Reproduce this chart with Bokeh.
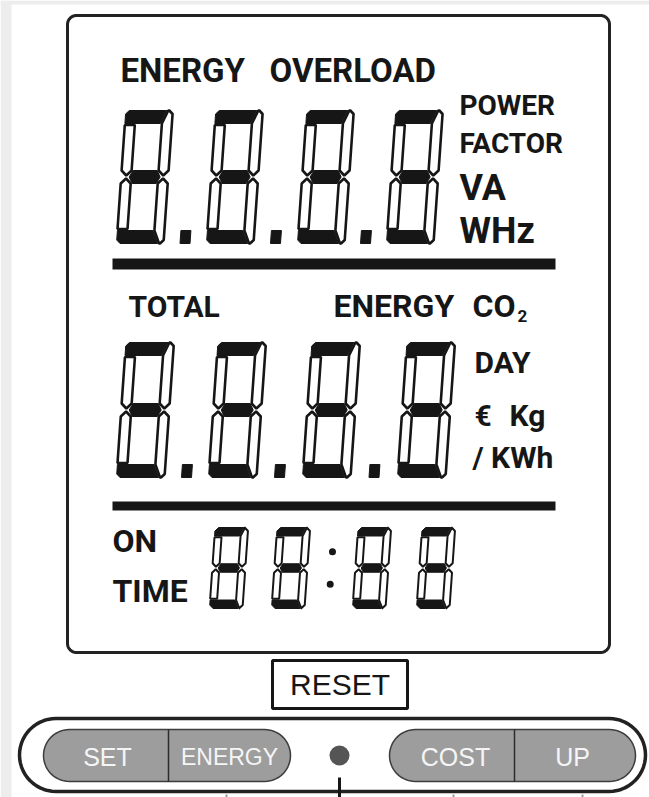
import math
from bokeh.plotting import figure
from bokeh.models import Range1d
from bokeh.core.properties import value
from bokeh.embed import file_html
from bokeh.resources import INLINE

# ---------------- data (display contents and legends) ----------------
top_digits = ["8", "8", "8", "8"]
top_points = [1, 1, 1]
mid_digits = ["8", "8", "8", "8"]
mid_points = [1, 1, 1]
time_digits = ["8", "8", "8", "8"]
time_colon = 1
header_labels = ["ENERGY", "OVERLOAD"]
top_units = ["POWER", "FACTOR", "VA", "WHz"]
mid_headers = ["TOTAL", "ENERGY", "CO"]
co2_sub = ["2"]
mid_units = ["DAY", "€", "Kg", "/ KWh"]
time_labels = ["ON", "TIME"]
reset_label = ["RESET"]
button_labels = ["SET", "ENERGY", "COST", "UP"]

SEG_MAP = {"0": "abcdef", "1": "bc", "2": "abdeg", "3": "abcdg", "4": "bcfg",
           "5": "acdfg", "6": "acdefg", "7": "abc", "8": "abcdefg", "9": "abcdfg"}

# ---------------- styles ----------------
INK = "#161616"
BOLD = "Roboto"
REG = "Liberation Sans"
BASE_SHIFT = 0.36   # empirical: rendered baseline sits this many em below the anchor

p = figure(width=649, height=797, x_range=Range1d(0, 649), y_range=Range1d(797, 0),
           output_backend="svg", toolbar_location=None, x_axis_type=None, y_axis_type=None,
           min_border=0, background_fill_color="white", border_fill_color="white",
           outline_line_color=None)
p.grid.visible = False


def arc_pts(cx, cy, r, a0, a1, n=14):
    return [(cx + r * math.cos(math.radians(a0 + (a1 - a0) * i / n)),
             cy + r * math.sin(math.radians(a0 + (a1 - a0) * i / n))) for i in range(n + 1)]


def rounded(x0, y0, x1, y1, r):
    pts = []
    pts += arc_pts(x0 + r, y0 + r, r, 180, 270)
    pts += arc_pts(x1 - r, y0 + r, r, 270, 360)
    pts += arc_pts(x1 - r, y1 - r, r, 0, 90)
    pts += arc_pts(x0 + r, y1 - r, r, 90, 180)
    xs = [q[0] for q in pts] + [pts[0][0]]
    ys = [q[1] for q in pts] + [pts[0][1]]
    return xs, ys


def digit_polys(x0, yb, W, H, th, tv, k, g, digit):
    M = H / 2
    c = tv * 0.55      # diagonal cut between horizontal bar and right vertical
    r = 3.5            # corner bevel
    h2 = tv / 2
    segs = {
        "a": [(0, H - th), (0, H - r), (r, H), (W - tv + c - g, H), (W - tv - g, H - th)],
        "d": [(0, th), (0, r), (r, 0), (W - tv + c - g, 0), (W - tv - g, th)],
        "g": [(h2 + 2 * g, M), (tv + g, M + th / 2), (W - tv - g, M + th / 2),
              (W - h2 - 2 * g, M), (W - tv - g, M - th / 2), (tv + g, M - th / 2)],
        "b": [(W - tv, H - th), (W - tv + c, H), (W - r, H), (W, H - r), (W, M + h2 + g),
              (W - h2, M + g), (W - tv, M + h2 + g)],
        "c": [(W - tv, th), (W - tv + c, 0), (W - r, 0), (W, r), (W, M - h2 - g),
              (W - h2, M - g), (W - tv, M - h2 - g)],
        "f": [(0, H - th - g), (tv, H - th - g), (tv, M + h2 + g), (h2, M + g), (0, M + h2 + g)],
        "e": [(0, th + g), (tv, th + g), (tv, M - h2 - g), (h2, M - g), (0, M - h2 - g)],
    }
    filled, outlined = [], []
    for name in SEG_MAP[digit]:
        pts = segs[name]
        xs = [x0 + u + v * k for u, v in pts]
        ys = [yb - v for u, v in pts]
        (filled if name in "adg" else outlined).append((xs, ys))
    return filled, outlined


def draw_row(digits, x0s, yb, W, H, th, tv, k, gap, lw, points=None, dot=(10, 13), colon=None):
    fx, fy, ox, oy = [], [], [], []
    for d, x0 in zip(digits, x0s):
        f, o = digit_polys(x0, yb, W, H, th, tv, k, gap, d)
        for xs, ys in f:
            fx.append(xs); fy.append(ys)
        for xs, ys in o:
            ox.append(xs); oy.append(ys)
    if points:
        dw, dh = dot
        for i, on in enumerate(points):
            if not on:
                continue
            cx = (x0s[i] + W + x0s[i + 1]) / 2
            pts = [(cx - dw / 2, 0), (cx + dw / 2, 0), (cx + dw / 2, dh), (cx - dw / 2, dh)]
            fx.append([u + v * k for u, v in pts]); fy.append([yb - v for u, v in pts])
    p.patches(fx, fy, fill_color=INK, line_color=INK, line_width=1.0)
    p.patches(ox, oy, fill_color="white", line_color=INK, line_width=lw)
    if colon:
        i, r = colon
        cx = (x0s[i] + W + x0s[i + 1]) / 2
        vs = [H * 0.3, H * 0.7]
        p.scatter([cx + v * k for v in vs], [yb - v for v in vs], size=2 * r,
                  fill_color=INK, line_color=None)


def texts(xs, ys, labels, size, font=BOLD, style="bold", align="left", color=INK):
    ys = [y - BASE_SHIFT * size for y in ys]
    p.text(x=xs, y=ys, text=labels, text_font=value(font), text_font_size=value(f"{size}px"),
           text_font_style=style, text_align=align, text_baseline="alphabetic", text_color=color)


# faint screenshot frame (top and left)
p.quad(left=[0, 0], right=[649, 11], top=[0, 0], bottom=[4, 797], fill_color="#ededed", line_color=None)

# LCD frame
bx, by = rounded(67, 15, 609, 652, 9)
p.patch(bx, by, fill_color="white", line_color="#222222", line_width=3)

# separator bars
p.quad(left=[112, 112], right=[555, 555], top=[258, 501], bottom=[269, 510],
       fill_color=INK, line_color=None)

# digits
draw_row(top_digits, [116, 206, 297, 386], 243, 47, 133, 13, 10, 0.07, 1.5, 2.6, points=top_points)
draw_row(mid_digits, [116, 208, 302, 397], 477, 48, 135, 13, 10, 0.07, 1.5, 2.6, points=mid_points)
draw_row(time_digits, [209, 271, 352, 416], 608, 33, 81, 8.5, 7, 0.07, 1.2, 2.0,
         colon=(1, 3.5) if time_colon else None)

# legends
texts([120, 269], [82, 82], header_labels, 33)
texts([459, 459], [115, 153], top_units[:2], 28)
texts([459, 459], [200, 243], top_units[2:], 36)
texts([128], [317], mid_headers[:1], 30)
texts([333, 472], [317, 317], mid_headers[1:], 32)
texts([517], [322], co2_sub, 17)
texts([474, 474, 509, 472], [373, 426, 426, 468], mid_units, 30)
texts([112, 112], [552, 602], time_labels, 32)

# reset button
p.quad(left=[272], right=[407], top=[660], bottom=[708], fill_color="white",
       line_color=INK, line_width=3)
texts([339.5], [695], reset_label, 30, font=REG, style="normal", align="center")

# button strip
ox_, oy_ = rounded(19, 718, 645, 791, 36.5)
p.patch(ox_, oy_, fill_color="white", line_color="#222222", line_width=3.5)
for (a, b) in [(43, 290), (389, 635)]:
    xs, ys = rounded(a, 729, b, 781, 26)
    p.patch(xs, ys, fill_color="#9d9d9d", line_color="#3c3c3c", line_width=1.5)
p.segment(x0=[168, 514], y0=[729, 729], x1=[168, 514], y1=[781, 781],
          line_color="#2c2c2c", line_width=1.5)
texts([107, 572, 455], [765, 765, 765], [button_labels[0], button_labels[3], button_labels[2]],
      25, font=REG, style="normal", align="center", color="#f5f5f5")
texts([229], [765], [button_labels[1]], 23, font=REG, style="normal", align="center", color="#f5f5f5")

# reset hole and pointer line, plus stubs of the other pointer lines
p.scatter([339], [755], size=20, fill_color="#555555", line_color=None)
p.segment(x0=[339], y0=[777], x1=[339], y1=[797], line_color=INK, line_width=3)
p.segment(x0=[226, 453, 582], y0=[794, 794, 794], x1=[226, 453, 582], y1=[797, 797, 797],
          line_color="#9a9a9a", line_width=2)

open("out.html", "w").write(file_html(p, INLINE))
